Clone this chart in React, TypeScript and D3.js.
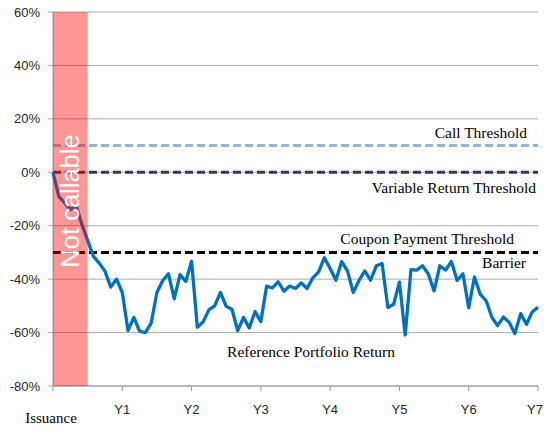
import React from 'react';
import * as d3 from 'd3';

// monthly reference portfolio return (%), issuance -> Y7
const portfolioReturn = [
  0, -9, -11.5, -14, -12.4, -19.5, -25.5, -31.5, -34, -37, -43, -40,
  -45, -59.3, -54.3, -59.5, -60, -56.5, -45, -40.5, -38, -47.4, -38.3, -40.9,
  -33.3, -58, -56, -51.5, -50, -45, -50.2, -51.3, -59.3, -54.3, -58.3, -52.1,
  -55.9, -42.6, -43.3, -41, -44.5, -42.6, -43.5, -41.4, -43.5, -39.5, -37.3, -32,
  -36, -40.4, -33.4, -36.9, -45, -40.5, -36.9, -40.4, -35, -34.2, -50.6, -49.4,
  -41.1, -60.9, -36.4, -36.6, -35, -38.1, -44.4, -35, -36.6, -33.4, -40.5, -38,
  -50.7, -39.2, -45.7, -48, -54.2, -57.4, -54.2, -56.1, -60.4, -52.9, -56.9, -52.3,
  -50.5,
];

const yTicks = [60, 40, 20, 0, -20, -40, -60, -80];
const yearTicks = [12, 24, 36, 48, 60, 72, 84];
const yearLabels = ['Y1', 'Y2', 'Y3', 'Y4', 'Y5', 'Y6', 'Y7'];

const callThreshold = 10;
const variableReturnThreshold = 0;
const barrier = -30;
const nonCallMonths = 6;

const W = 544;
const H = 432;

export default function App() {
  const x = d3.scaleLinear().domain([0, 84]).range([53, 538]);
  const y = d3.scaleLinear().domain([-80, 60]).range([386, 12]);

  const line = d3
    .line<number>()
    .x((_, i) => x(i))
    .y(d => y(d));

  const serif = '"Liberation Serif", "Times New Roman", serif';
  const sans = '"Liberation Sans", Arial, sans-serif';

  const thresholds = [
    { v: callThreshold, color: '#95B3D7' },
    { v: variableReturnThreshold, color: '#403152' },
    { v: barrier, color: '#000000' },
  ];

  return (
    <div style={{ position: 'fixed', left: 0, top: 0 }}>
      <svg width={W} height={H} style={{ display: 'block', background: '#fff' }}>
        {/* grid */}
        {yTicks.map(t => (
          <g key={`g${t}`}>
            <line x1={x(0) - 5} x2={x(84)} y1={y(t)} y2={y(t)} stroke="#ababab" strokeWidth={1} />
            <text
              x={40}
              y={y(t)}
              dy="0.35em"
              textAnchor="end"
              fontFamily={sans}
              fontSize={13}
              fill="#262626"
            >
              {`${t}%`}
            </text>
          </g>
        ))}

        {/* axes */}
        <line x1={x(0)} x2={x(0)} y1={y(60)} y2={y(-80)} stroke="#9a9a9a" strokeWidth={1} />
        <line x1={x(0)} x2={x(84)} y1={y(-80)} y2={y(-80)} stroke="#9a9a9a" strokeWidth={1} />
        {[0, ...yearTicks].map(t => (
          <line key={`t${t}`} x1={x(t)} x2={x(t)} y1={y(-80)} y2={y(-80) + 5} stroke="#9a9a9a" />
        ))}
        {yearTicks.map((t, i) => (
          <text
            key={`yl${t}`}
            x={Math.min(x(t), W - 9)}
            y={409}
            dy="0.35em"
            textAnchor="middle"
            fontFamily={sans}
            fontSize={13}
            fill="#262626"
          >
            {yearLabels[i]}
          </text>
        ))}
        <text x={x(0) - 2} y={423} textAnchor="middle" fontFamily={serif} fontSize={15} fill="#000">
          Issuance
        </text>

        {/* threshold lines */}
        {thresholds.map(d => (
          <line
            key={`th${d.v}`}
            x1={x(0)}
            x2={x(84)}
            y1={y(d.v)}
            y2={y(d.v)}
            stroke={d.color}
            strokeWidth={3}
            strokeDasharray="8 4"
          />
        ))}

        {/* portfolio return */}
        <path d={line(portfolioReturn) || ''} fill="none" stroke="#0070C0" strokeWidth={3.3} strokeLinejoin="round" />

        {/* non-callable period */}
        <rect
          x={x(0)}
          y={y(60)}
          width={x(nonCallMonths) - x(0)}
          height={y(-80) - y(60)}
          fill="#ff0000"
          fillOpacity={0.41}
        />
        <text
          transform={`translate(${(x(0) + x(nonCallMonths)) / 2 + 9},${y(-10) + 2}) rotate(-90)`}
          textAnchor="middle"
          fontFamily={sans}
          fontSize={25.5}
          fill="#ffffff"
        >
          Not callable
        </text>

        {/* labels */}
        <text x={527} y={138} textAnchor="end" fontFamily={serif} fontSize={15.5}>Call Threshold</text>
        <text x={536} y={193} textAnchor="end" fontFamily={serif} fontSize={15.5}>Variable Return Threshold</text>
        <text x={514} y={244} textAnchor="end" fontFamily={serif} fontSize={15.5}>Coupon Payment  Threshold</text>
        <text x={526} y={268} textAnchor="end" fontFamily={serif} fontSize={15.5}>Barrier</text>
        <text x={311} y={357} textAnchor="middle" fontFamily={serif} fontSize={15.5}>Reference  Portfolio Return</text>
      </svg>
    </div>
  );
}
